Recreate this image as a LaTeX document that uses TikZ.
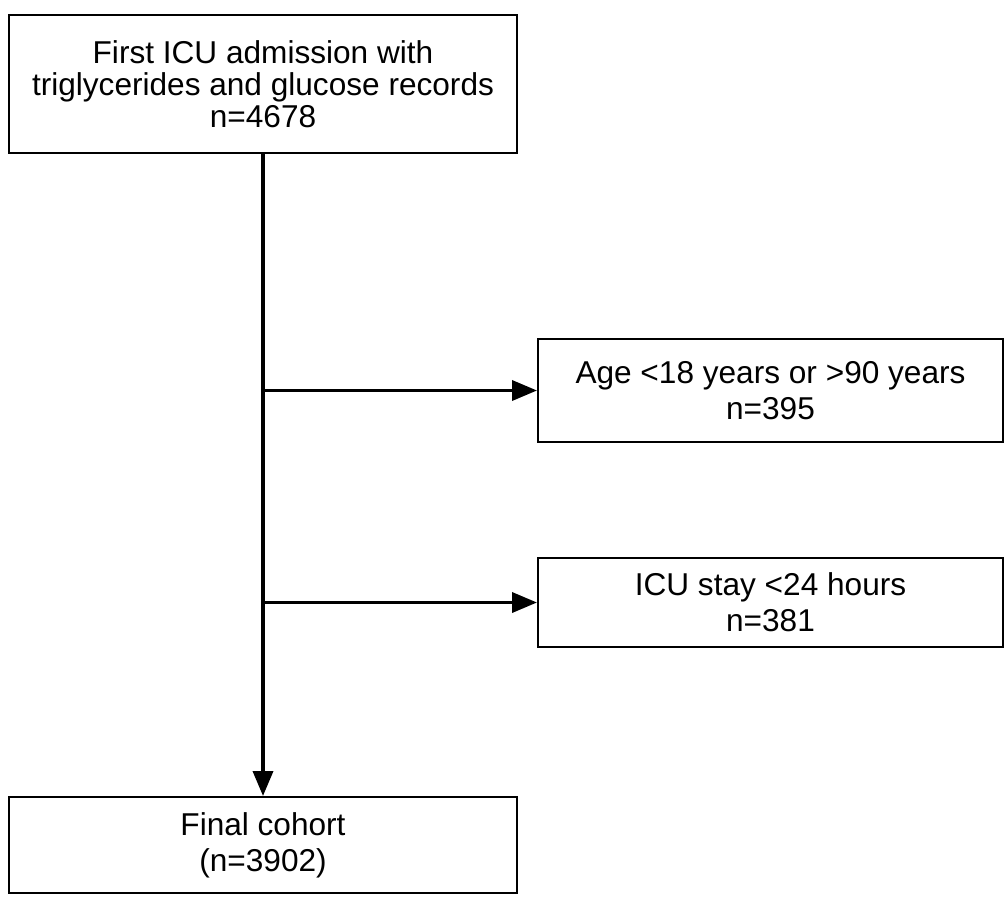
\documentclass[tikz,border=0pt]{standalone}
\usepackage{fontspec}
\setmainfont{Liberation Sans}
\usetikzlibrary{arrows.meta,positioning}

\begin{document}
\begin{tikzpicture}[
    x = 0.5pt, y = -0.5pt, % pixel grid, y downwards
    > = {Triangle[length=12.5pt,width=10pt]}, % arrow head style
    line width = 1.8pt % line style
    ]

    \tikzset{box/.style={
    draw = black,
    line width = 1pt,
    fill = white,
    align = center,
    inner sep = 0pt,
    font = \fontsize{15.8pt}{18pt}\selectfont
    }}
    \useasboundingbox (0,0) rectangle (1005,899);

    \node[box, minimum width=254pt, minimum height=69pt,
          font=\fontsize{15.8pt}{16pt}\selectfont] (first) at (263,84)
          {First ICU admission with\\triglycerides and glucose records\\n=4678};
    \node[box, minimum width=232.5pt, minimum height=51.5pt] (age) at (770.5,390.5)
          {Age <18 years or >90 years\\n=395};
    \node[box, minimum width=232.5pt, minimum height=44.5pt] (stay) at (770.5,602.5)
          {ICU stay <24 hours\\n=381};
    \node[box, minimum width=254pt, minimum height=48pt] (final) at (263,845)
          {Final cohort\\(n=3902)};

    \coordinate (j1) at (first.south |- age.west);
    \coordinate (j2) at (first.south |- stay.west);

    \draw[->] (first) -- (final);
    \draw[->] (j1) -- (age);
    \draw[->] (j2) -- (stay);
\end{tikzpicture}
\end{document}
